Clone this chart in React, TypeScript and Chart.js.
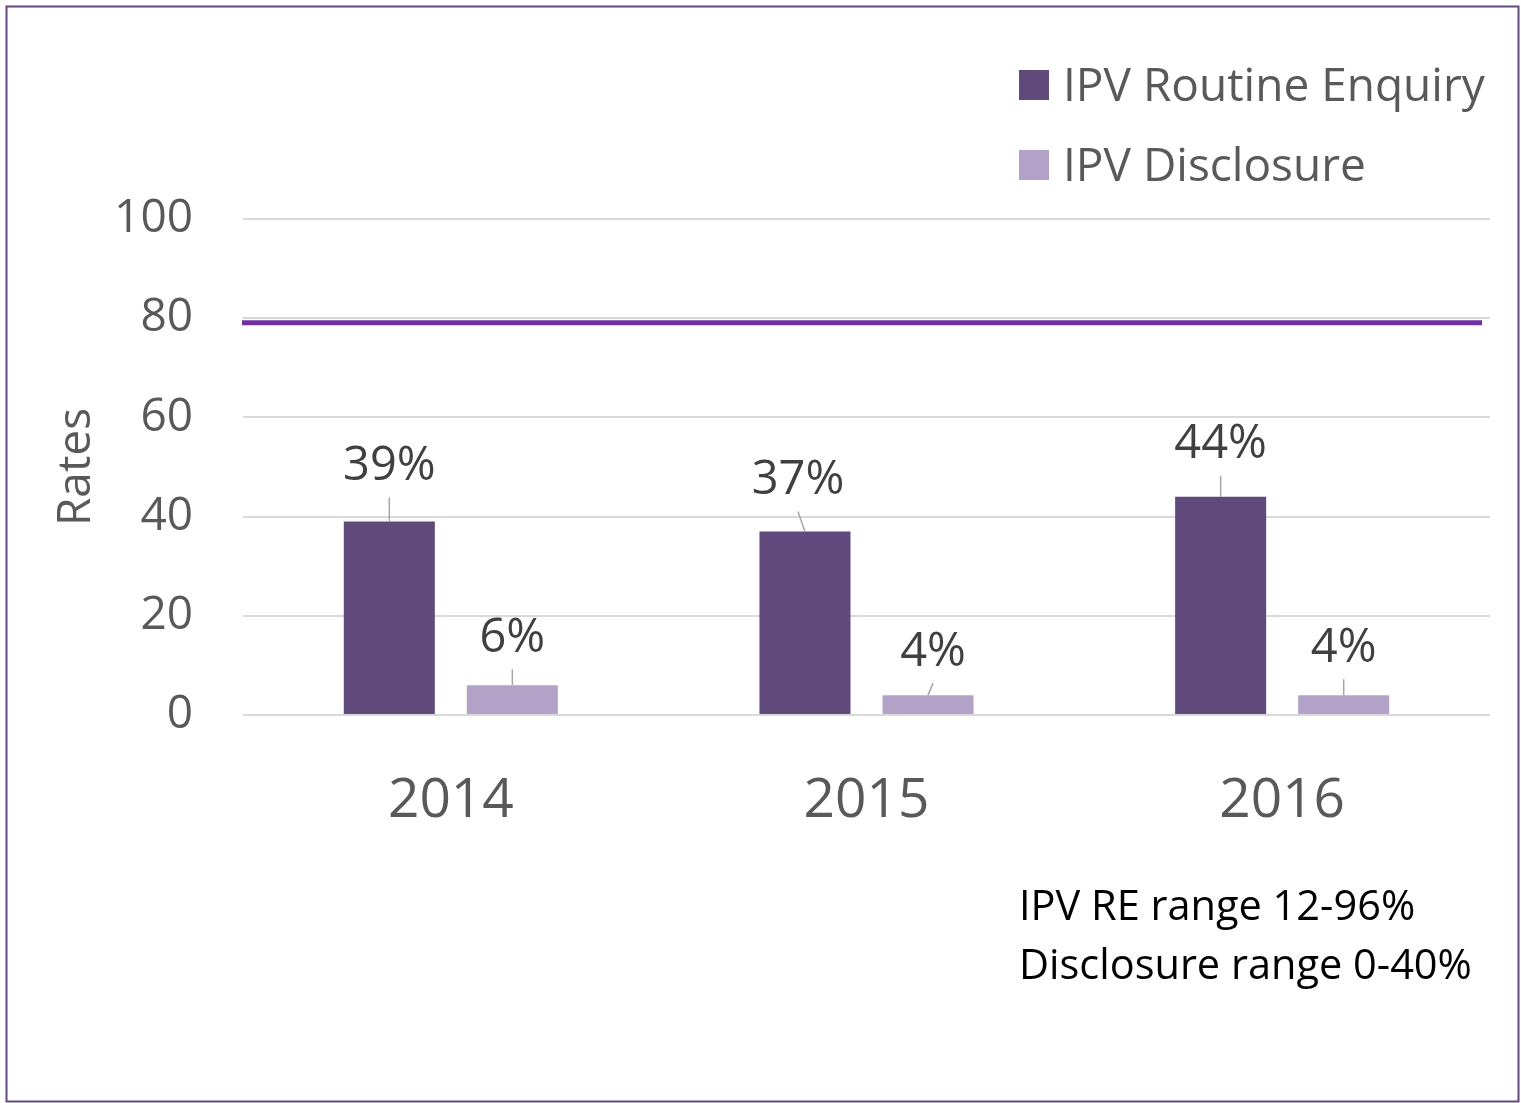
import React, { useEffect, useRef } from 'react';
import { Chart, registerables } from 'chart.js';

Chart.register(...registerables);

const categories = ['2014', '2015', '2016'];
const routineEnquiry = [39, 37, 44];
const disclosure = [6, 4, 4];
const seriesNames = ['IPV Routine Enquiry', 'IPV Disclosure'];
const yTicks = [0, 20, 40, 60, 80, 100];
const targetLine = 79.1;
const noteLines = ['IPV RE range 12-96%', 'Disclosure range 0-40%'];
const yAxisTitle = 'Rates';

const FONT = "'Open Sans', sans-serif";
const DARK = '#604a7b';
const LIGHT = '#b3a2c7';
const TARGET = '#7030a0';

// label placement offsets (style only): [datasetIndex][categoryIndex]
const labelShift = [
  [{ dx: 0, dy: 55 }, { dx: -7, dy: 51 }, { dx: 0, dy: 52 }],
  [{ dx: 0, dy: 47 }, { dx: 5, dy: 43 }, { dx: 0, dy: 47 }],
];

const decorPlugin = {
  id: 'decor',
  beforeDatasetsDraw(chart: any) {
    const { ctx, chartArea, scales } = chart;
    const y = scales.y.getPixelForValue(targetLine);
    ctx.save();
    ctx.strokeStyle = TARGET;
    ctx.lineWidth = 5;
    ctx.beginPath();
    ctx.moveTo(chartArea.left - 1, y);
    ctx.lineTo(chartArea.right - 8, y);
    ctx.stroke();
    ctx.restore();
  },
  afterDatasetsDraw(chart: any) {
    const { ctx } = chart;
    ctx.save();
    chart.data.datasets.forEach((ds: any, di: number) => {
      const meta = chart.getDatasetMeta(di);
      meta.data.forEach((el: any, i: number) => {
        const sh = labelShift[di][i];
        const lx = el.x + sh.dx;
        const ly = el.y - sh.dy;
        ctx.strokeStyle = '#a6a6a6';
        ctx.lineWidth = 1.5;
        ctx.beginPath();
        ctx.moveTo(el.x, el.y);
        ctx.lineTo(lx, ly + 31);
        ctx.stroke();
        ctx.fillStyle = '#404040';
        ctx.font = `47px ${FONT}`;
        ctx.textAlign = 'center';
        ctx.textBaseline = 'middle';
        ctx.fillText(ds.data[i] + '%', lx, ly);
      });
    });
    ctx.restore();
  },
  afterDraw(chart: any) {
    const { ctx, width, height } = chart;
    ctx.save();
    // frame
    ctx.strokeStyle = DARK;
    ctx.lineWidth = 2;
    ctx.strokeRect(6.5, 6.5, width - 9, height - 8);
    // legend
    const lx = width - 502;
    chart.data.datasets.forEach((ds: any, di: number) => {
      const top = 70 + di * 80;
      ctx.fillStyle = ds.backgroundColor;
      ctx.fillRect(lx, top, 30, 30);
      ctx.fillStyle = '#595959';
      ctx.font = `46px ${FONT}`;
      ctx.textAlign = 'left';
      ctx.textBaseline = 'alphabetic';
      ctx.fillText(ds.label, lx + 44, top + 31);
    });
    // notes
    ctx.fillStyle = '#000000';
    ctx.font = `41.5px ${FONT}`;
    noteLines.forEach((t, i) => {
      ctx.fillText(t, lx, 920 + i * 59);
    });
    ctx.restore();
  },
};

export default function App() {
  const ref = useRef<HTMLCanvasElement>(null);
  useEffect(() => {
    if (!ref.current) return;
    const chart = new Chart(ref.current, {
      type: 'bar',
      data: {
        labels: categories,
        datasets: [
          { label: seriesNames[0], data: routineEnquiry, backgroundColor: DARK },
          { label: seriesNames[1], data: disclosure, backgroundColor: LIGHT },
        ],
      },
      options: {
        responsive: false,
        animation: false,
        devicePixelRatio: 1,
        layout: { padding: { left: 0, top: 219, right: 31, bottom: 0 } },
        datasets: { bar: { categoryPercentage: 0.592, barPercentage: 0.74 } },
        plugins: { legend: { display: false }, tooltip: { enabled: false } },
        scales: {
          x: {
            grid: { display: false, drawTicks: false },
            border: { display: false },
            ticks: { font: { size: 55, family: FONT }, color: '#595959', padding: 53 },
            afterFit: (s: any) => { s.height = 388; },
          },
          y: {
            min: 0,
            max: 100,
            afterBuildTicks: (s: any) => { s.ticks = yTicks.map((v) => ({ value: v })); },
            ticks: { font: { size: 46, family: FONT }, color: '#595959', padding: 50 },
            grid: { color: '#d9d9d9', lineWidth: 2, drawTicks: false },
            border: { display: false },
            title: {
              display: true,
              text: yAxisTitle,
              color: '#595959',
              font: { size: 46, family: FONT },
              padding: { top: 49, bottom: 0 },
            },
            afterFit: (s: any) => { s.width = 243; },
          },
        },
      },
      plugins: [decorPlugin],
    } as any);
    return () => chart.destroy();
  }, []);
  return (
    <div style={{ position: 'absolute', left: 0, top: 0, width: 1521, height: 1103, background: '#fff' }}>
      <canvas ref={ref} width={1521} height={1103} style={{ display: 'block' }} />
    </div>
  );
}
